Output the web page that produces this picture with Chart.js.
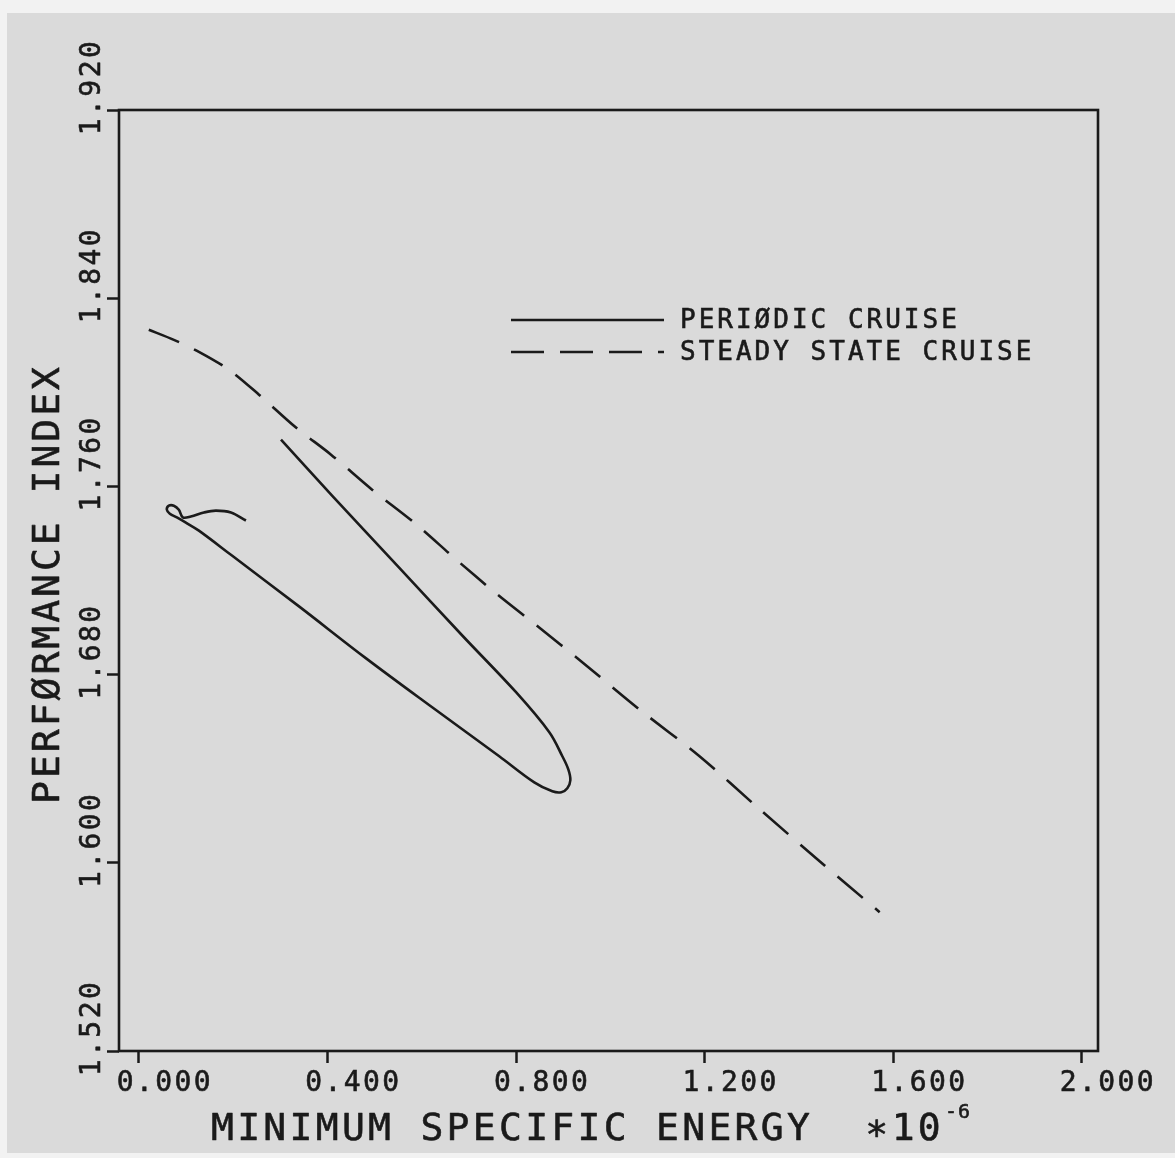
<!DOCTYPE html>
<html>
<head>
<meta charset="utf-8">
<title>Performance index vs minimum specific energy</title>
<script src="https://cdn.jsdelivr.net/npm/chart.js@4.4.1/dist/chart.umd.min.js"></script>
<style>
  html, body { margin: 0; padding: 0; background: #f2f2f2; }
  #sheet { position: absolute; left: 7px; top: 13px; width: 1168px; height: 1140px; background: #dadada; }
  #wrap { position: absolute; left: 0; top: 0; width: 1175px; height: 1158px; }
</style>
</head>
<body>
<div id="sheet"></div>
<div id="wrap"><canvas id="chart" width="1175" height="1158"></canvas></div>
<script>
// ----------------------------
// Data (energy in units of 1e-6)
// ----------------------------
const xTicks = [0.0, 0.4, 0.8, 1.2, 1.6, 2.0];
const yTicks = [1.52, 1.60, 1.68, 1.76, 1.84, 1.92];

// periodic cruise: upper branch down to the tip, back up the lower branch, small curl at the end
const periodicX = [0.3015, 0.4098, 0.5520, 0.6879, 0.8004, 0.8705, 0.8981, 0.9108, 0.9151, 0.9087,
                   0.8960, 0.8769, 0.8386, 0.7643, 0.6221, 0.4820, 0.3397, 0.1975, 0.1274, 0.0998,
                   0.0807, 0.0658, 0.0594, 0.0637, 0.0743, 0.0849, 0.0934, 0.1104, 0.1380, 0.1635, 0.1953, 0.2272];
const periodicY = [1.7799, 1.7561, 1.7255, 1.6962, 1.6724, 1.6555, 1.6453, 1.6397, 1.6351, 1.6317,
                   1.6300, 1.6304, 1.6342, 1.6453, 1.6661, 1.6869, 1.7090, 1.7306, 1.7412, 1.7446,
                   1.7468, 1.7484, 1.7501, 1.7518, 1.7518, 1.7501, 1.7468, 1.7472, 1.7489, 1.7497, 1.7489, 1.7455];

// steady state cruise
const steadyX = [0.0212, 0.0743, 0.1274, 0.1910, 0.2548, 0.3333, 0.4076, 0.4947, 0.5839,
                 0.6730, 0.7600, 0.8490, 0.9384, 1.0616, 1.1890, 1.3163, 1.4437, 1.5710];
const steadyY = [1.8266, 1.8223, 1.8172, 1.8096, 1.7990, 1.7850, 1.7735, 1.7586, 1.7446,
                 1.7289, 1.7141, 1.7000, 1.6856, 1.6652, 1.6453, 1.6228, 1.6007, 1.5790];

const seriesLabels = ["PERIØDIC CRUISE", "STEADY STATE CRUISE"];

// ----------------------------
// Styling
// ----------------------------
const ink = "#1a1a1a";
const mono = "'DejaVu Sans Mono', 'Liberation Mono', monospace";

function toPoints(xs, ys) {
  return xs.map((x, i) => ({ x: x, y: ys[i] }));
}

// plotter lettering: fill plus a hairline stroke so the strokes come out a bit heavier
function plotText(ctx, text, x, y) {
  ctx.fillText(text, x, y);
  ctx.strokeText(text, x, y);
}

// ----------------------------
// Plugins: frame, rotated y labels, axis titles, legend
// ----------------------------
const plotterPlugin = {
  id: "plotter",
  beforeDraw(chart) {
    // wide letter spacing for the native x tick labels
    chart.ctx.letterSpacing = "2.4px";
  },
  afterDraw(chart) {
    const ctx = chart.ctx;
    const area = chart.chartArea;
    const yScale = chart.scales.y;

    // frame round the plot
    ctx.save();
    ctx.strokeStyle = ink;
    ctx.lineWidth = 2.6;
    ctx.strokeRect(area.left, area.top, area.right - area.left, area.bottom - area.top);
    ctx.restore();

    ctx.save();
    ctx.fillStyle = ink;
    ctx.strokeStyle = ink;
    ctx.lineWidth = 0.6;
    ctx.lineJoin = "round";

    // y tick labels, rotated, decimal point on the tick
    ctx.font = "28px " + mono;
    ctx.letterSpacing = "2.4px";
    ctx.textAlign = "center";
    ctx.textBaseline = "alphabetic";
    yScale.ticks.forEach(t => {
      const py = yScale.getPixelForValue(t.value);
      ctx.save();
      ctx.translate(yScale.right - 19, py - 23);
      ctx.rotate(-Math.PI / 2);
      plotText(ctx, t.value.toFixed(3), 0, 0);
      ctx.restore();
    });

    // axis titles
    ctx.font = "38px " + mono;
    ctx.letterSpacing = "3.3px";
    ctx.textAlign = "left";
    const xTitle = "MINIMUM SPECIFIC ENERGY  \u221710";
    plotText(ctx, xTitle, area.left + 92, area.bottom + 89);
    const w = ctx.measureText(xTitle).width;
    ctx.font = "20px " + mono;
    ctx.letterSpacing = "1px";
    plotText(ctx, "-6", area.left + 92 + w + 1, area.bottom + 67);

    ctx.save();
    ctx.font = "38px " + mono;
    ctx.letterSpacing = "3px";
    ctx.translate(area.left - 60, area.bottom - 247);
    ctx.rotate(-Math.PI / 2);
    plotText(ctx, "PERFØRMANCE INDEX", 0, 0);
    ctx.restore();
    ctx.restore();

    // legend, drawn from the dataset styles
    ctx.save();
    const lx0 = area.left + 392;
    const lx1 = area.left + 545;
    chart.data.datasets.forEach((ds, i) => {
      const ly = area.top + 210 + i * 32;
      ctx.strokeStyle = ds.borderColor;
      ctx.lineWidth = ds.borderWidth;
      ctx.setLineDash(ds.borderDash || []);
      ctx.beginPath();
      ctx.moveTo(lx0, ly);
      ctx.lineTo(lx1, ly);
      ctx.stroke();
      ctx.setLineDash([]);
      ctx.fillStyle = ink;
      ctx.lineWidth = 0.6;
      ctx.font = "26px " + mono;
      ctx.letterSpacing = "3px";
      ctx.textAlign = "left";
      ctx.textBaseline = "middle";
      plotText(ctx, ds.label, lx1 + 16, ly + 1);
    });
    ctx.restore();
  }
};

// ----------------------------
// Chart
// ----------------------------
const chart = new Chart(document.getElementById("chart").getContext("2d"), {
  type: "scatter",
  data: {
    datasets: [
      {
        label: seriesLabels[0],
        data: toPoints(periodicX, periodicY),
        showLine: true,
        borderColor: ink,
        borderWidth: 2.6,
        pointRadius: 0,
        tension: 0.35,
        fill: false
      },
      {
        label: seriesLabels[1],
        data: toPoints(steadyX, steadyY),
        showLine: true,
        borderColor: ink,
        borderWidth: 2.6,
        borderDash: [33, 16],
        pointRadius: 0,
        tension: 0.3,
        fill: false
      }
    ]
  },
  options: {
    responsive: false,
    animation: false,
    events: [],
    layout: { padding: { left: 0, top: 110, right: 77, bottom: 0 } },
    plugins: {
      legend: { display: false },
      tooltip: { enabled: false },
      title: { display: false }
    },
    scales: {
      x: {
        type: "linear",
        min: -0.042,
        max: 2.034,
        afterBuildTicks: s => { s.ticks = xTicks.map(v => ({ value: v })); },
        afterFit: s => { s.height = 107; },
        border: { display: false },
        grid: { drawOnChartArea: false, drawTicks: true, tickLength: 12, tickWidth: 2.5, tickColor: ink },
        ticks: {
          color: ink,
          textStrokeColor: ink,
          textStrokeWidth: 0.6,
          font: { family: mono, size: 28 },
          padding: 4,
          labelOffset: 26,
          maxRotation: 0,
          autoSkip: false,
          callback: v => v.toFixed(3)
        }
      },
      y: {
        type: "linear",
        min: 1.52,
        max: 1.92,
        afterBuildTicks: s => { s.ticks = yTicks.map(v => ({ value: v })); },
        afterFit: s => { s.width = 119; },
        border: { display: false },
        grid: { drawOnChartArea: false, drawTicks: true, tickLength: 12, tickWidth: 2.5, tickColor: ink },
        ticks: { display: false }
      }
    }
  },
  plugins: [plotterPlugin]
});
</script>
</body>
</html>
